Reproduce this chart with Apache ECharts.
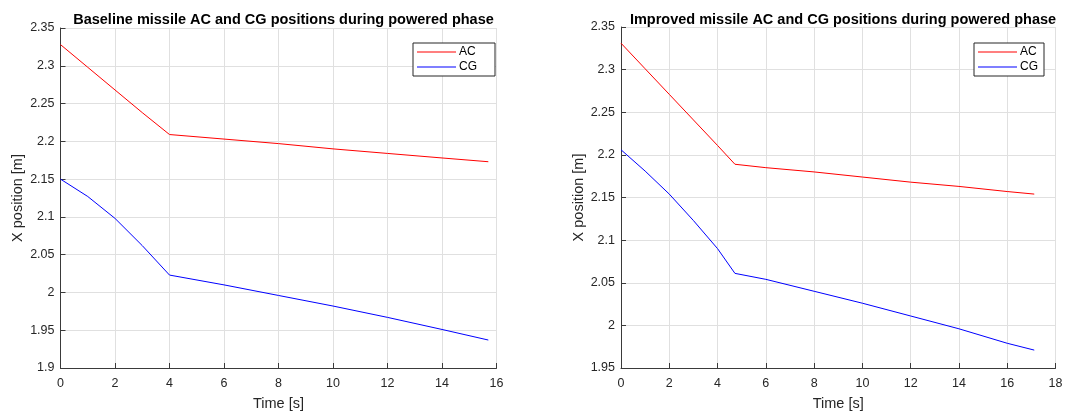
<!DOCTYPE html>
<html>
<head>
<meta charset="utf-8">
<script src="https://cdn.jsdelivr.net/npm/echarts@6.0.0/dist/echarts.min.js"></script>
<style>
  html, body { margin: 0; padding: 0; background: #fff; }
  #chart { width: 1067px; height: 416px; }
</style>
</head>
<body>
<div id="chart"></div>
<script>
// baseline missile
const baseTime = [0, 1, 2, 3, 4, 6, 8, 10, 12, 14, 15.7];
const baseAC = [2.328, 2.298, 2.268, 2.238, 2.209, 2.203, 2.197, 2.190, 2.184, 2.178, 2.173];
const baseCG = [2.150, 2.127, 2.098, 2.062, 2.023, 2.010, 1.996, 1.982, 1.967, 1.951, 1.937];

// improved missile
const impTime = [0, 1, 2, 3, 4, 4.72, 6, 8, 10, 12, 14, 16, 17.12];
const impAC = [2.331, 2.301, 2.271, 2.241, 2.211, 2.189, 2.185, 2.180, 2.174, 2.168, 2.163, 2.157, 2.154];
const impCG = [2.206, 2.181, 2.154, 2.123, 2.090, 2.061, 2.054, 2.040, 2.026, 2.011, 1.996, 1.979, 1.971];

// axis ranges [min, max, step]
const baseX = [0, 16, 2];
const baseY = [1.9, 2.35, 0.05];
const impX = [0, 18, 2];
const impY = [1.95, 2.35, 0.05];

const titles = [
  'Baseline missile AC and CG positions during powered phase',
  'Improved missile AC and CG positions during powered phase'
];

const font = 'Liberation Sans, Arial, Helvetica, sans-serif';
const dark = '#262626';

function pairs(t, v) {
  return t.map((x, i) => [x, v[i]]);
}

function xAxis(idx, r) {
  return {
    type: 'value', gridIndex: idx, min: r[0], max: r[1], interval: r[2],
    name: 'Time [s]', nameLocation: 'middle', nameGap: 28,
    nameTextStyle: { color: dark, fontSize: 14.5, fontFamily: font },
    axisLine: { lineStyle: { color: '#3a3a3a', width: 1 } },
    axisTick: { inside: true, length: 5, lineStyle: { color: '#3a3a3a' } },
    axisLabel: { color: dark, fontSize: 12.5, fontFamily: font, margin: 9 },
    splitLine: { show: true, lineStyle: { color: '#e0e0e0' } }
  };
}

function yAxis(idx, r) {
  return {
    type: 'value', gridIndex: idx, min: r[0], max: r[1], interval: r[2],
    name: 'X position [m]', nameLocation: 'middle', nameGap: 35,
    nameTextStyle: { color: dark, fontSize: 14.5, fontFamily: font },
    axisLine: { show: true, lineStyle: { color: '#3a3a3a', width: 1 } },
    axisTick: { show: true, inside: true, length: 5, lineStyle: { color: '#3a3a3a' } },
    axisLabel: { color: dark, fontSize: 12.5, fontFamily: font, margin: 6 },
    splitLine: { show: true, lineStyle: { color: '#e0e0e0' } }
  };
}

function line(name, color, idx, data) {
  return {
    name: name, type: 'line', xAxisIndex: idx, yAxisIndex: idx,
    data: data, symbol: 'none', smooth: false,
    lineStyle: { color: color, width: 1 }, itemStyle: { color: color },
    animation: false
  };
}

// thin horizontal bar used as the legend key
const keyIcon = 'path://M0,0H39V1.2H0Z';

function legend(left, padRight) {
  return {
    data: ['AC', 'CG'], orient: 'vertical', left: left, top: 43,
    icon: keyIcon, symbolKeepAspect: true,
    padding: [3, padRight, 3, 4], itemGap: 3, itemWidth: 39, itemHeight: 14,
    borderColor: dark, borderWidth: 1, backgroundColor: '#fff',
    textStyle: { color: '#000', fontSize: 12, fontFamily: font, padding: [0, 0, 0, -2] },
    selectedMode: false
  };
}

const chart = echarts.init(document.getElementById('chart'), null, { renderer: 'canvas' });
chart.setOption({
  backgroundColor: '#fff',
  animation: false,
  title: [
    { text: titles[0], left: 278.5, top: 7, textAlign: 'center',
      textStyle: { fontSize: 14.5, fontWeight: 'bold', color: '#000', fontFamily: font } },
    { text: titles[1], left: 838, top: 7, textAlign: 'center',
      textStyle: { fontSize: 14.5, fontWeight: 'bold', color: '#000', fontFamily: font } }
  ],
  grid: [
    { left: 60.5, top: 28, width: 436, height: 342 },
    { left: 621, top: 27, width: 434.5, height: 344 }
  ],
  legend: [legend(413, 18), legend(974, 6)],
  xAxis: [xAxis(0, baseX), xAxis(1, impX)],
  yAxis: [yAxis(0, baseY), yAxis(1, impY)],
  series: [
    line('AC', '#ff0000', 0, pairs(baseTime, baseAC)),
    line('CG', '#0000ff', 0, pairs(baseTime, baseCG)),
    line('AC', '#ff0000', 1, pairs(impTime, impAC)),
    line('CG', '#0000ff', 1, pairs(impTime, impCG))
  ]
});
</script>
</body>
</html>
